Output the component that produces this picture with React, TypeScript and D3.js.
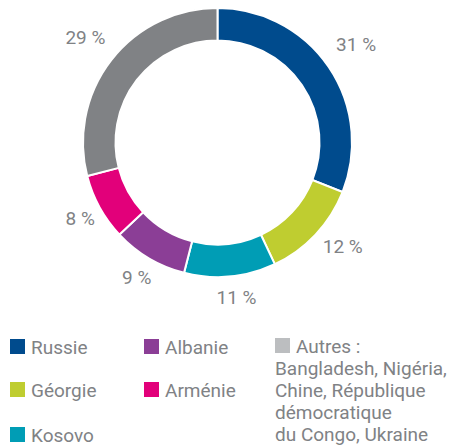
import React from "react";
import * as d3 from "d3";

const categories = ["Russie", "Géorgie", "Kosovo", "Albanie", "Arménie", "Autres"];
const values = [31, 12, 11, 9, 8, 29];
const sliceColors = ["#004b8d", "#bfcd30", "#009db5", "#8b3e96", "#e2007a", "#808285"];
const legendColors = ["#004b8d", "#bfcd30", "#009db5", "#8b3e96", "#e2007a", "#bcbec0"];
const autresDetail = ["Bangladesh, Nigéria,", "Chine, République", "démocratique", "du Congo, Ukraine"];

// label placement (angle in degrees clockwise from top, radius) – layout only
const labelAngles = [54.6, 129.8, 173, 211, 241, 308.6];
const labelRadii = [170, 163, 156, 157, 157, 169];

// legend layout: [column, row]
const legendSlots: [number, number][] = [[0, 0], [0, 1], [0, 2], [1, 0], [1, 1], [2, 0]];
const colX = [10, 144, 275];
const rowY = [354, 397, 442];

const W = 452;
const H = 446;
const cx = 217.5;
const cy = 142.5;
const outerR = 134.5;
const innerR = 102;
const textColor = "#808285";
const font = "Roboto, 'Liberation Sans', sans-serif";

export default function App() {
  const pie = d3.pie<number>().value((d) => d).sort(null);
  const arcs = pie(values);
  const arc = d3.arc<d3.PieArcDatum<number>>().innerRadius(innerR).outerRadius(outerR);

  return (
    <div style={{ position: "absolute", left: 0, top: 0 }}>
      <svg width={W} height={H} style={{ display: "block" }}>
        <g transform={`translate(${cx},${cy})`}>
          {arcs.map((a, i) => (
            <path key={i} d={arc(a) || ""} fill={sliceColors[i]} stroke="#fff" strokeWidth={2} />
          ))}
          {arcs.map((a, i) => {
            const ang = (labelAngles[i] * Math.PI) / 180;
            const r = labelRadii[i];
            return (
              <text
                key={"l" + i}
                x={r * Math.sin(ang)}
                y={-r * Math.cos(ang)}
                textAnchor="middle"
                dominantBaseline="central"
                fill={textColor}
                fontFamily={font}
                fontSize={19}
              >
                {`${values[i]} %`}
              </text>
            );
          })}
        </g>
        <g>
          {categories.map((c, i) => {
            const [col, row] = legendSlots[i];
            const x = colX[col];
            const y = rowY[row] - (col === 2 ? 1 : 0);
            return (
              <g key={"lg" + i}>
                <rect x={x} y={y - 15} width={15} height={15} fill={legendColors[i]} />
                <text x={x + 21} y={y} fill={textColor} fontFamily={font} fontSize={19}>
                  {c + (col === 2 ? " :" : "")}
                </text>
                {col === 2 &&
                  autresDetail.map((line, j) => (
                    <text key={j} x={x} y={y + 22 * (j + 1)} fill={textColor} fontFamily={font} fontSize={19}>
                      {line}
                    </text>
                  ))}
              </g>
            );
          })}
        </g>
      </svg>
    </div>
  );
}
